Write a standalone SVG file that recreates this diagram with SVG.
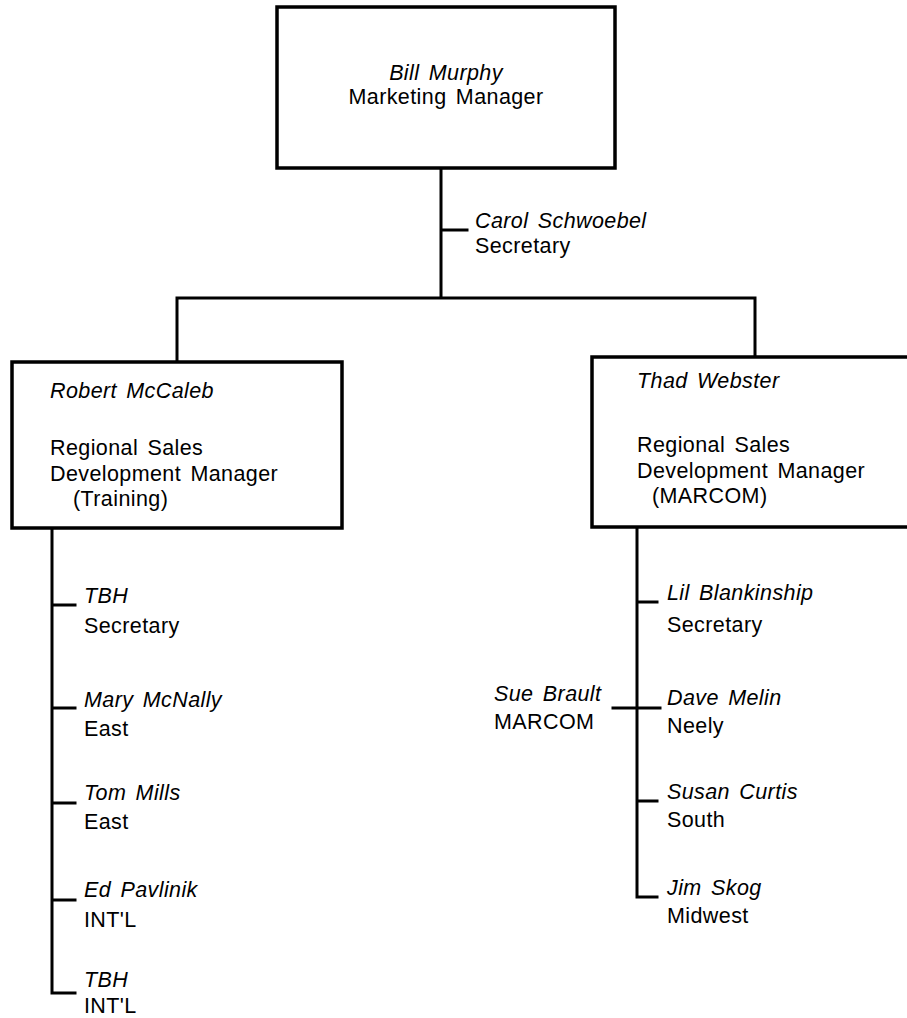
<svg xmlns="http://www.w3.org/2000/svg" width="907" height="1018" viewBox="0 0 907 1018">
<style>
.box{fill:#fff;stroke:#000;stroke-width:3.5}
.ln{stroke:#000;stroke-width:3;fill:none;stroke-linecap:square}
text{font-family:"Liberation Sans",Arial,sans-serif;font-size:21.5px;letter-spacing:0.4px;word-spacing:3px;fill:#000}
.n{font-style:italic}
.c{text-anchor:middle}
</style>
<rect width="907" height="1018" fill="#fff"/>
<g id="connectors">
<path class="ln" d="M441 168V298M441 230H467M177 298H755M177 298V362M755 298V357"/>
<path class="ln" d="M52 528V993M52 605H75M52 708H75M52 803H75M52 900H75M52 993H75"/>
<path class="ln" d="M637 527V897M637 602H657M613 708H660M637 801H657M637 897H657"/>
</g>
<g id="bill">
<rect class="box" x="277" y="7" width="338" height="161"/>
<text class="n c" x="446" y="80">Bill Murphy</text>
<text class="c" x="446" y="104">Marketing Manager</text>
</g>
<g id="carol">
<text class="n" x="475" y="228">Carol Schwoebel</text>
<text x="475" y="253">Secretary</text>
</g>
<g id="robert">
<rect class="box" x="12" y="362" width="330" height="166"/>
<text class="n" x="50" y="398">Robert McCaleb</text>
<text x="50" y="455">Regional Sales</text>
<text x="50" y="481">Development Manager</text>
<text x="73" y="506">(Training)</text>
</g>
<g id="thad">
<rect class="box" x="592" y="357" width="320" height="170"/>
<text class="n" x="637" y="388">Thad Webster</text>
<text x="637" y="452">Regional Sales</text>
<text x="637" y="478">Development Manager</text>
<text x="652" y="503">(MARCOM)</text>
</g>
<g id="tbh1"><text class="n" x="84" y="603">TBH</text><text x="84" y="633">Secretary</text></g>
<g id="mary"><text class="n" x="84" y="707">Mary McNally</text><text x="84" y="736">East</text></g>
<g id="tom"><text class="n" x="84" y="800">Tom Mills</text><text x="84" y="829">East</text></g>
<g id="ed"><text class="n" x="84" y="897">Ed Pavlinik</text><text x="84" y="927">INT'L</text></g>
<g id="tbh2"><text class="n" x="84" y="987">TBH</text><text x="84" y="1013">INT'L</text></g>
<g id="lil"><text class="n" x="667" y="600">Lil Blankinship</text><text x="667" y="632">Secretary</text></g>
<g id="sue"><text class="n" x="494" y="701">Sue Brault</text><text x="494" y="729">MARCOM</text></g>
<g id="dave"><text class="n" x="667" y="705">Dave Melin</text><text x="667" y="733">Neely</text></g>
<g id="susan"><text class="n" x="667" y="799">Susan Curtis</text><text x="667" y="827">South</text></g>
<g id="jim"><text class="n" x="667" y="895">Jim Skog</text><text x="667" y="923">Midwest</text></g>
</svg>
